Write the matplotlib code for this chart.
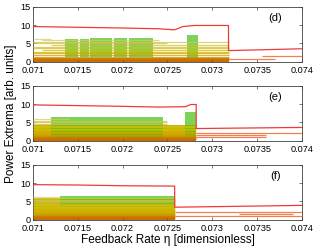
import numpy as np
import matplotlib.pyplot as plt
from matplotlib.colors import LinearSegmentedColormap

plt.rcParams['font.family'] = ['Liberation Sans', 'DejaVu Sans']

# panel labels
panels = ['(d)', '(e)', '(f)']

# upper envelope (red) per panel
d_red_x = [0.071, 0.0715, 0.072, 0.0724, 0.07258, 0.07267, 0.0728, 0.07318, 0.07318, 0.074]
d_red_y = [9.6, 9.4, 9.2, 9.0, 8.7, 9.6, 9.9, 9.9, 3.0, 3.5]
e_red_x = [0.071, 0.0715, 0.072, 0.0724, 0.0727, 0.07276, 0.07282, 0.07282, 0.074]
e_red_y = [9.8, 9.6, 9.4, 9.2, 9.3, 9.9, 9.9, 3.3, 3.6]
f_red_x = [0.071, 0.0715, 0.072, 0.07258, 0.07258, 0.074]
f_red_y = [9.6, 9.5, 9.3, 9.2, 3.4, 3.9]

# end of the chaotic range per panel
d_end = 0.07318
e_end = 0.07282
f_end = 0.07258

# yellow/orange extrema levels inside chaotic range: (start, stop, level)
d_lines = [(0.071, 0.07318, 0.3), (0.071, 0.07318, 0.6), (0.071, 0.07318, 0.9),
           (0.071, 0.07318, 1.3), (0.071, 0.07318, 1.8), (0.071, 0.07318, 2.2),
           (0.071, 0.07318, 2.7), (0.0711, 0.07318, 3.1), (0.071, 0.07318, 3.6),
           (0.071, 0.07318, 4.1), (0.0712, 0.07318, 4.6), (0.071, 0.0725, 5.0),
           (0.071, 0.07318, 5.4), (0.0711, 0.0724, 5.9), (0.071, 0.0712, 6.2)]
e_lines = [(0.071, 0.07282, 0.3), (0.071, 0.07282, 0.6), (0.071, 0.07282, 0.9),
           (0.071, 0.07282, 1.2), (0.071, 0.07282, 1.6), (0.071, 0.07282, 2.0),
           (0.071, 0.07282, 2.4), (0.071, 0.07282, 2.8), (0.071, 0.07282, 3.2),
           (0.071, 0.07282, 3.6), (0.071, 0.07282, 4.0), (0.071, 0.0725, 4.5),
           (0.071, 0.0725, 5.0), (0.071, 0.0725, 5.5), (0.071, 0.0714, 6.0)]
f_lines = [(0.071, 0.07258, 0.3), (0.071, 0.07258, 0.6), (0.071, 0.07258, 0.9),
           (0.071, 0.07258, 1.2), (0.071, 0.07258, 1.5), (0.071, 0.07258, 1.9),
           (0.071, 0.07258, 2.3), (0.071, 0.07258, 2.7), (0.071, 0.07258, 3.1),
           (0.071, 0.07258, 3.5), (0.071, 0.07258, 3.9), (0.071, 0.07258, 4.3),
           (0.071, 0.07258, 4.7), (0.071, 0.07258, 5.1), (0.071, 0.07258, 5.5),
           (0.071, 0.07258, 5.9), (0.071, 0.0713, 6.3)]

# green chaotic clouds: (start, stop, bottom, top)
d_clouds = [(0.07136, 0.0715, 1.2, 6.3), (0.07152, 0.07162, 1.2, 6.3),
            (0.07164, 0.07188, 1.2, 6.4), (0.0719, 0.07205, 1.2, 6.5),
            (0.07207, 0.07234, 1.2, 6.5), (0.07272, 0.07284, 1.0, 7.3)]
e_clouds = [(0.0712, 0.07245, 1.0, 6.4), (0.0727, 0.07282, 1.0, 7.8)]
f_clouds = [(0.0713, 0.07258, 3.6, 6.6)]

# periodic branches after the crisis: (start, stop, level)
d_tail = [(0.07318, 0.0737, 0.8), (0.07355, 0.074, 1.6)]
e_tail = [(0.07282, 0.074, 2.0), (0.07282, 0.0736, 1.6), (0.07282, 0.0736, 1.0)]
f_tail = [(0.07258, 0.074, 2.0), (0.07258, 0.074, 1.0), (0.0733, 0.0739, 1.4)]

red_x = [d_red_x, e_red_x, f_red_x]
red_y = [d_red_y, e_red_y, f_red_y]
ends = [d_end, e_end, f_end]
lines = [d_lines, e_lines, f_lines]
clouds = [d_clouds, e_clouds, f_clouds]
tails = [d_tail, e_tail, f_tail]
fill_top = [0.0, 4.3, 5.8]

cmap = LinearSegmentedColormap.from_list('lev', ['#c86400', '#d09a00', '#d8c000', '#c8c040', '#e0d070'])

fig = plt.figure(figsize=(3.16, 2.47), dpi=100)
bottoms = [0.751, 0.431, 0.111]
for k in range(3):
    ax = fig.add_axes([0.104, bottoms[k], 0.852, 0.221])
    # dense band of the chaotic range
    if fill_top[k] > 0:
        ax.fill_between([0.071, ends[k]], 0, fill_top[k], color='#c8b400', lw=0, zorder=1)
    ax.fill_between([0.071, ends[k]], 0, 1.0, color='#c87000', lw=0, zorder=1)
    for x0, x1, y0, y1 in clouds[k]:
        ax.fill_between([x0, x1], y0, y1, color='#48c010', alpha=0.7, lw=0, zorder=2)
    for x0, x1, y in lines[k]:
        ax.hlines(y, x0, x1, color=cmap(y / 6.5), lw=0.9, alpha=0.75, zorder=3)
    for x0, x1, y in tails[k]:
        ax.hlines(y, x0, x1, color='#f08050', lw=0.9, zorder=3)
    ax.plot(red_x[k], red_y[k], color='#f03a3a', lw=0.9, zorder=4)
    ax.set_xlim(0.071, 0.074)
    ax.set_ylim(0, 15)
    ax.set_xticks(np.arange(0.071, 0.07401, 0.0005))
    ax.set_xticklabels(['0.071', '0.0715', '0.072', '0.0725', '0.073', '0.0735', '0.074'])
    ax.set_yticks([0, 5, 10, 15])
    ax.tick_params(direction='in', length=2.5, width=0.5, labelsize=6.6, pad=1.5,
                   top=True, right=True, colors='#404040', labelcolor='black')
    ax.tick_params(axis='x', pad=3.2)
    for s in ax.spines.values():
        s.set_linewidth(0.6)
        s.set_color('#404040')
    ax.text(0.0737, 12.0, panels[k], fontsize=8, ha='center', va='center')

fig.text(0.53, 0.004, 'Feedback Rate η [dimensionless]', ha='center', va='bottom', fontsize=8.5)
fig.text(0.015, 0.54, 'Power Extrema [arb. units]', rotation=90, ha='left', va='center', fontsize=8.5)
fig.savefig('out.png', dpi=100)
